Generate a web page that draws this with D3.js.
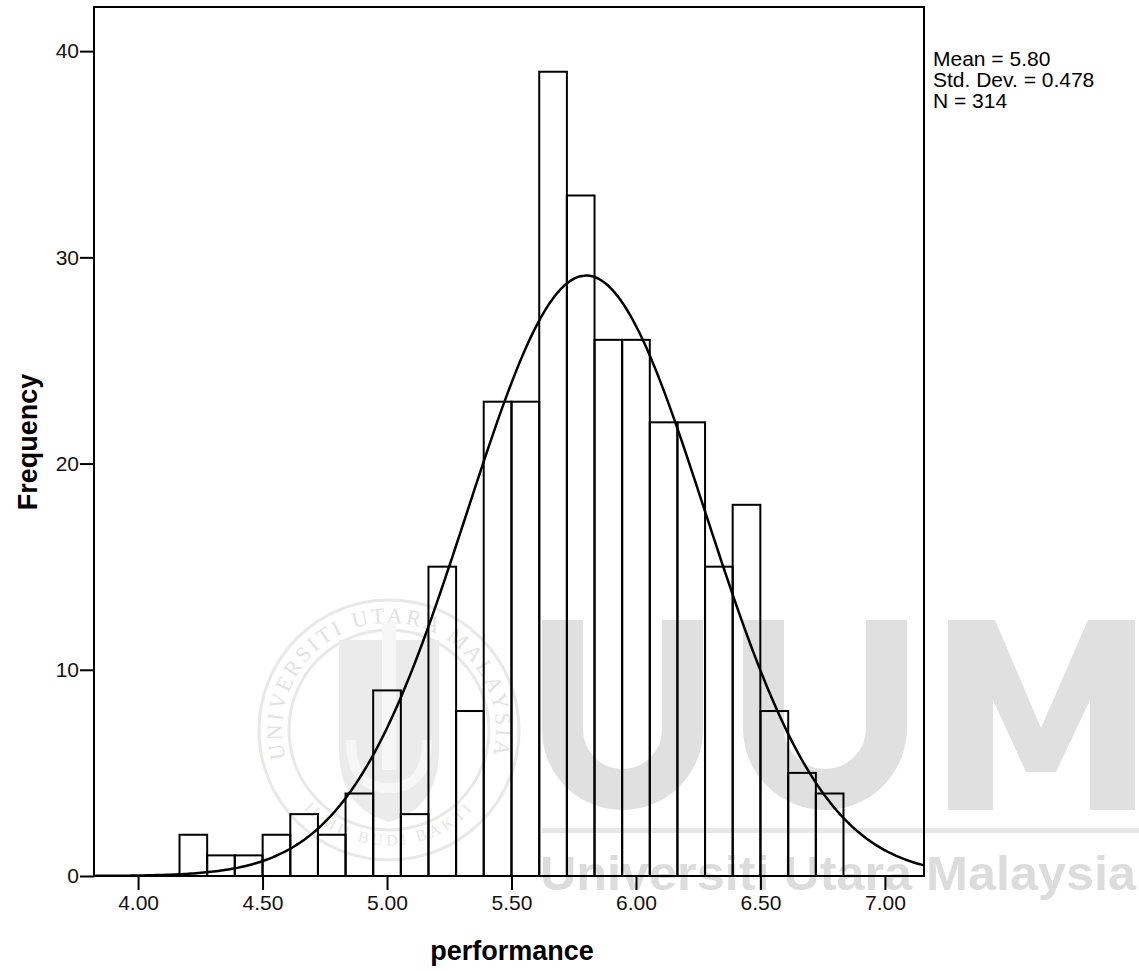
<!DOCTYPE html>
<html>
<head>
<meta charset="utf-8">
<script src="https://cdnjs.cloudflare.com/ajax/libs/d3/7.8.5/d3.min.js"></script>
<style>
  body { margin: 0; background: #fff; }
  svg { display: block; font-family: "Liberation Sans", Arial, sans-serif; }
  .tick text { font-size: 21px; fill: #111; }
</style>
</head>
<body>
<div id="chart"></div>
<script>
// bin midpoints (width 1/9) and frequencies
var binMids = [4.222, 4.333, 4.444, 4.556, 4.667, 4.778, 4.889, 5.000, 5.111, 5.222, 5.333, 5.444,
               5.556, 5.667, 5.778, 5.889, 6.000, 6.111, 6.222, 6.333, 6.444, 6.556, 6.667, 6.778];
var counts = [2, 1, 1, 2, 3, 2, 4, 9, 3, 15, 8, 23,
              23, 39, 33, 26, 26, 22, 22, 15, 18, 8, 5, 4];
var binWidth = 1 / 9;

var xTicks = [4.00, 4.50, 5.00, 5.50, 6.00, 6.50, 7.00];
var yTicks = [0, 10, 20, 30, 40];

var stats = { mean: 5.80, sd: 0.478, n: 314 };
var statLines = ["Mean = 5.80", "Std. Dev. = 0.478", "N = 314"];

var width = 1139;
var height = 971;

// plot frame (window.top is reserved, so use a prefix)
var frameLeft = 94, frameRight = 924, frameTop = 7, frameBottom = 876;

var svg = d3.select("#chart")
    .append("svg")
    .attr("width", width)
    .attr("height", height);

svg.append("rect").attr("width", width).attr("height", height).attr("fill", "#fff");

var xScale = d3.scaleLinear().domain([3.823, 7.157]).range([frameLeft, frameRight]);
var yScale = d3.scaleLinear().domain([0, 42.14]).range([frameBottom, frameTop]);

// ---- watermark (behind everything) ----
var wm = svg.append("g").attr("class", "watermark");
var grey = "#e0e0e0";

// seal
var seal = wm.append("g").attr("transform", "translate(389,730)");
seal.append("circle").attr("r", 130).attr("fill", "none").attr("stroke", "#e8e8e8").attr("stroke-width", 3);
seal.append("circle").attr("r", 100).attr("fill", "none").attr("stroke", "#e8e8e8").attr("stroke-width", 3);
seal.append("path").attr("id", "sealArc")
    .attr("d", "M -98 60 A 115 115 0 1 1 98 60")
    .attr("fill", "none");
seal.append("text")
    .attr("font-family", "Liberation Serif, serif")
    .attr("font-size", 22)
    .attr("fill", "#e2e2e2")
    .attr("letter-spacing", 4)
    .attr("dy", 8)
    .append("textPath")
    .attr("href", "#sealArc")
    .attr("startOffset", "50%")
    .attr("text-anchor", "middle")
    .text("UNIVERSITI UTARA MALAYSIA");
seal.append("path").attr("id", "sealArc2")
    .attr("d", "M -80 75 A 110 110 0 0 0 80 75")
    .attr("fill", "none");
seal.append("text")
    .attr("font-family", "Liberation Serif, serif")
    .attr("font-size", 16)
    .attr("fill", "#e6e6e6")
    .attr("letter-spacing", 3)
    .attr("dy", 6)
    .append("textPath")
    .attr("href", "#sealArc2")
    .attr("startOffset", "50%")
    .attr("text-anchor", "middle")
    .text("ILMU BUDI BAKTI");
// shield
seal.append("path")
    .attr("d", "M -50 -90 L 50 -90 L 50 20 Q 50 78 0 92 Q -50 78 -50 20 Z")
    .attr("fill", "#ebebeb");
seal.append("path")
    .attr("d", "M -7 -108 L 7 -108 L 7 40 L -7 40 Z")
    .attr("fill", "#f6f6f6");
seal.append("path")
    .attr("d", "M -38 10 Q -38 58 0 58 Q 38 58 38 10")
    .attr("fill", "none").attr("stroke", "#f6f6f6").attr("stroke-width", 10);

// "UUM" letters
function drawU(x0, x1) {
    var sw = 41;
    var r = (x1 - x0 - sw) / 2;
    var cx = (x0 + x1) / 2;
    var cy = 810 - sw / 2 - r;
    wm.append("path")
        .attr("d", "M " + (cx - r) + " 620 V " + cy +
            " A " + r + " " + r + " 0 0 0 " + (cx + r) + " " + cy + " V 620")
        .attr("fill", "none")
        .attr("stroke", grey)
        .attr("stroke-width", sw);
}
drawU(542, 703);
drawU(743, 907);
wm.append("path")
    .attr("d", "M 948 810 V 620 H 995 L 1041 728 L 1088 620 H 1135 V 810 H 1090 V 700 L 1056 772 H 1026 L 993 700 V 810 Z")
    .attr("fill", grey);
wm.append("rect").attr("x", 542).attr("y", 828).attr("width", 597).attr("height", 5).attr("fill", "#e8e8e8");
wm.append("text")
    .attr("x", 540)
    .attr("y", 890)
    .attr("font-size", 48)
    .attr("font-weight", "bold")
    .attr("fill", "#dcdcdc")
    .attr("textLength", 596)
    .attr("lengthAdjust", "spacingAndGlyphs")
    .text("Universiti Utara Malaysia");

// ---- bars ----
svg.append("g")
    .selectAll("rect")
    .data(binMids)
    .enter()
    .append("rect")
    .attr("x", function(d){ return xScale(d - binWidth / 2); })
    .attr("width", function(d){ return xScale(d + binWidth / 2) - xScale(d - binWidth / 2); })
    .attr("y", function(d, i){ return yScale(counts[i]); })
    .attr("height", function(d, i){ return yScale(0) - yScale(counts[i]); })
    .attr("fill", "none")
    .attr("stroke", "#000")
    .attr("stroke-width", 2);

// ---- normal curve from the reported stats ----
var scaleFactor = stats.n * binWidth / (stats.sd * Math.sqrt(2 * Math.PI));
var curveX = d3.range(xScale.domain()[0], xScale.domain()[1] + 0.001, 0.01);
var line = d3.line()
    .x(function(d){ return xScale(d); })
    .y(function(d){
        var z = (d - stats.mean) / stats.sd;
        return yScale(scaleFactor * Math.exp(-0.5 * z * z));
    })
    .curve(d3.curveBasis);
svg.append("path")
    .datum(curveX)
    .attr("d", line)
    .attr("fill", "none")
    .attr("stroke", "#000")
    .attr("stroke-width", 2.5);

// ---- frame ----
svg.append("rect")
    .attr("x", frameLeft).attr("y", frameTop)
    .attr("width", frameRight - frameLeft).attr("height", frameBottom - frameTop)
    .attr("fill", "none")
    .attr("stroke", "#000")
    .attr("stroke-width", 2);

// ---- axes ----
var xAxis = d3.axisBottom(xScale)
    .tickValues(xTicks)
    .tickFormat(d3.format(".2f"))
    .tickSize(14)
    .tickPadding(5);
var yAxis = d3.axisLeft(yScale)
    .tickValues(yTicks)
    .tickSize(14)
    .tickPadding(1);

svg.append("g")
    .attr("transform", "translate(0," + frameBottom + ")")
    .call(xAxis)
    .call(function(g){
        g.select(".domain").remove();
        g.selectAll(".tick line").attr("stroke", "#000").attr("stroke-width", 2);
        g.selectAll(".tick text").attr("font-family", null);
    });

svg.append("g")
    .attr("transform", "translate(" + frameLeft + ",0)")
    .call(yAxis)
    .call(function(g){
        g.select(".domain").remove();
        g.selectAll(".tick line").attr("stroke", "#000").attr("stroke-width", 2);
        g.selectAll(".tick text").attr("font-family", null);
    });

// axis titles
svg.append("text")
    .attr("transform", "translate(37,442) rotate(-90)")
    .attr("text-anchor", "middle")
    .attr("font-size", 27)
    .attr("font-weight", "bold")
    .text("Frequency");

svg.append("text")
    .attr("x", 512)
    .attr("y", 960)
    .attr("text-anchor", "middle")
    .attr("font-size", 27)
    .attr("font-weight", "bold")
    .text("performance");

// stats box
svg.append("g")
    .selectAll("text")
    .data(statLines)
    .enter()
    .append("text")
    .attr("x", 933)
    .attr("y", function(d, i){ return 66 + i * 21; })
    .attr("font-size", 21)
    .text(function(d){ return d; });
</script>
</body>
</html>
